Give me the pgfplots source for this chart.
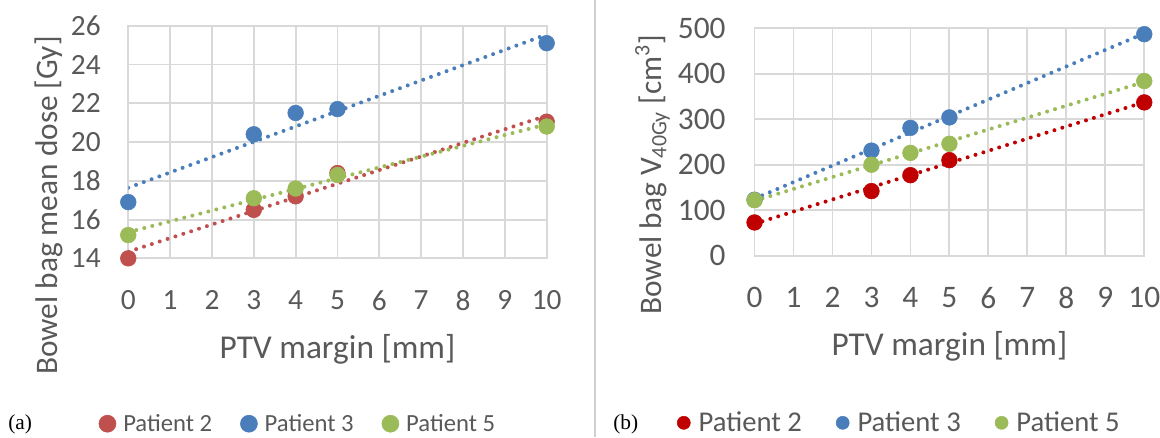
\documentclass[border=0pt]{standalone}
\usepackage{pgfplots}
\pgfplotsset{compat=1.18}
\usepackage{pgfplotstable}
\usepackage{fontspec}
\setmainfont{Carlito}
\newfontfamily\seriffont{Liberation Serif}
\definecolor{txt}{HTML}{595959}
\definecolor{gridc}{HTML}{D9D9D9}
\definecolor{sepc}{HTML}{D0D0D0}
\definecolor{redA}{HTML}{C0504D}
\definecolor{blueA}{HTML}{4A7EBB}
\definecolor{greenA}{HTML}{9BBB59}
\definecolor{redB}{HTML}{C00000}

\pgfplotstableread{
X P2 P3 P5
0 14.0 16.9 15.2
3 16.5 20.4 17.1
4 17.2 21.5 17.6
5 18.4 21.7 18.3
10 21.05 25.1 20.8
}\dataA
\pgfplotstableread{
X P2 P3 P5
0 73 123 122
3 142 231 200
4 177 281 226
5 210 304 246
10 337 487 384
}\dataB

\pgfplotsset{
  mystyle/.style={
    scale only axis,
    xmin=0, xmax=10, xtick={0,...,10},
    grid=major,
    grid style={gridc, line width=1.4pt},
    axis line style={gridc, line width=1.4pt},
    major tick length=0pt,
    tick label style={text=txt, inner sep=0pt},
    /pgf/number format/assume math mode=true,
    label style={text=txt},
    xlabel style={font=\fontsize{25}{30}\selectfont, anchor=base},
    ylabel style={font=\fontsize{23.5}{28}\selectfont, anchor=base},
    legend style={draw=none, fill=none, legend columns=3, inner sep=0pt,
      text=txt, nodes={inner sep=0pt}},
    legend cell align=left,
  },
  trend/.style={line width=3pt, line cap=round, dash pattern=on 0pt off 6.2pt, forget plot},
  pts/.style={only marks, mark=*, mark size=5.9pt, mark options={draw=none}},
}

\begin{document}
\begin{tikzpicture}
\useasboundingbox (0,0) rectangle (870pt,327.75pt);
\draw[sepc, line width=1.2pt] (446.25pt,0) -- (446.25pt,327.75pt);

% ---------- panel (a) ----------
\begin{axis}[mystyle,
  at={(96.2pt,134.0pt)}, anchor=south west,
  width=313.8pt, height=174.45pt,
  ymin=14, ymax=26, ytick={14,16,...,26},
  tick label style={font=\fontsize{22}{26}\selectfont},
  xticklabel style={anchor=north, yshift=-24pt},
  yticklabel style={anchor=east, xshift=-20.5pt},
  xlabel={PTV margin [mm]},
  ylabel={Bowel bag mean dose [Gy]},
  xlabel style={at={(axis description cs:0.5,-0.429)}},
  ylabel style={at={(axis description cs:-0.169,0.227)}},
  legend style={at={(axis description cs:0.403,-0.711)}, anchor=center,
    font=\fontsize{18.5}{22}\selectfont,
    /tikz/every odd column/.append style={column sep=5.25pt},
    /tikz/every even column/.append style={column sep=21pt}},
  legend image code/.code={\fill[#1] (0pt,0pt) circle (6.4pt);},
]
\addplot[redA, pts] table[x=X, y=P2] {\dataA};
\addlegendentry{Patient 2}
\addplot[blueA, pts] table[x=X, y=P3] {\dataA};
\addlegendentry{Patient 3}
\addplot[greenA, pts] table[x=X, y=P5] {\dataA};
\addlegendentry{Patient 5}
\addplot[redA, trend] table[x=X, y={create col/linear regression={y=P2}}] {\dataA};
\addplot[blueA, trend] table[x=X, y={create col/linear regression={y=P3}}] {\dataA};
\addplot[greenA, trend] table[x=X, y={create col/linear regression={y=P5}}] {\dataA};
\end{axis}

% ---------- panel (b) ----------
\begin{axis}[mystyle,
  at={(565.9pt,136.0pt)}, anchor=south west,
  width=292.3pt, height=170.55pt,
  ymin=0, ymax=500, ytick={0,100,...,500},
  tick label style={font=\fontsize{23.5}{28}\selectfont},
  xticklabel style={anchor=north, yshift=-23.25pt},
  yticklabel style={anchor=east, xshift=-21.5pt},
  xlabel={PTV margin [mm]},
  ylabel={Bowel bag V\textsubscript{40Gy} [cm\textsuperscript{3}]},
  xlabel style={at={(axis description cs:0.5,-0.441)}},
  ylabel style={at={(axis description cs:-0.239,0.355)}},
  legend style={at={(axis description cs:0.369,-0.735)}, anchor=center,
    font=\fontsize{21.5}{26}\selectfont,
    /tikz/every odd column/.append style={column sep=6pt},
    /tikz/every even column/.append style={column sep=25.5pt}},
  legend image code/.code={\fill[#1] (0pt,0pt) circle (4.9pt);},
]
\addplot[redB, pts] table[x=X, y=P2] {\dataB};
\addlegendentry{Patient 2}
\addplot[blueA, pts] table[x=X, y=P3] {\dataB};
\addlegendentry{Patient 3}
\addplot[greenA, pts] table[x=X, y=P5] {\dataB};
\addlegendentry{Patient 5}
\addplot[redB, trend] table[x=X, y={create col/linear regression={y=P2}}] {\dataB};
\addplot[blueA, trend] table[x=X, y={create col/linear regression={y=P3}}] {\dataB};
\addplot[greenA, trend] table[x=X, y={create col/linear regression={y=P5}}] {\dataB};
\end{axis}

\node[anchor=west, inner sep=0pt, text=black, font=\seriffont\fontsize{16}{18}\selectfont] at (6pt,9.75pt) {(a)};
\node[anchor=west, inner sep=0pt, text=black, font=\seriffont\fontsize{16}{18}\selectfont] at (459.75pt,9.75pt) {(b)};
\end{tikzpicture}
\end{document}
